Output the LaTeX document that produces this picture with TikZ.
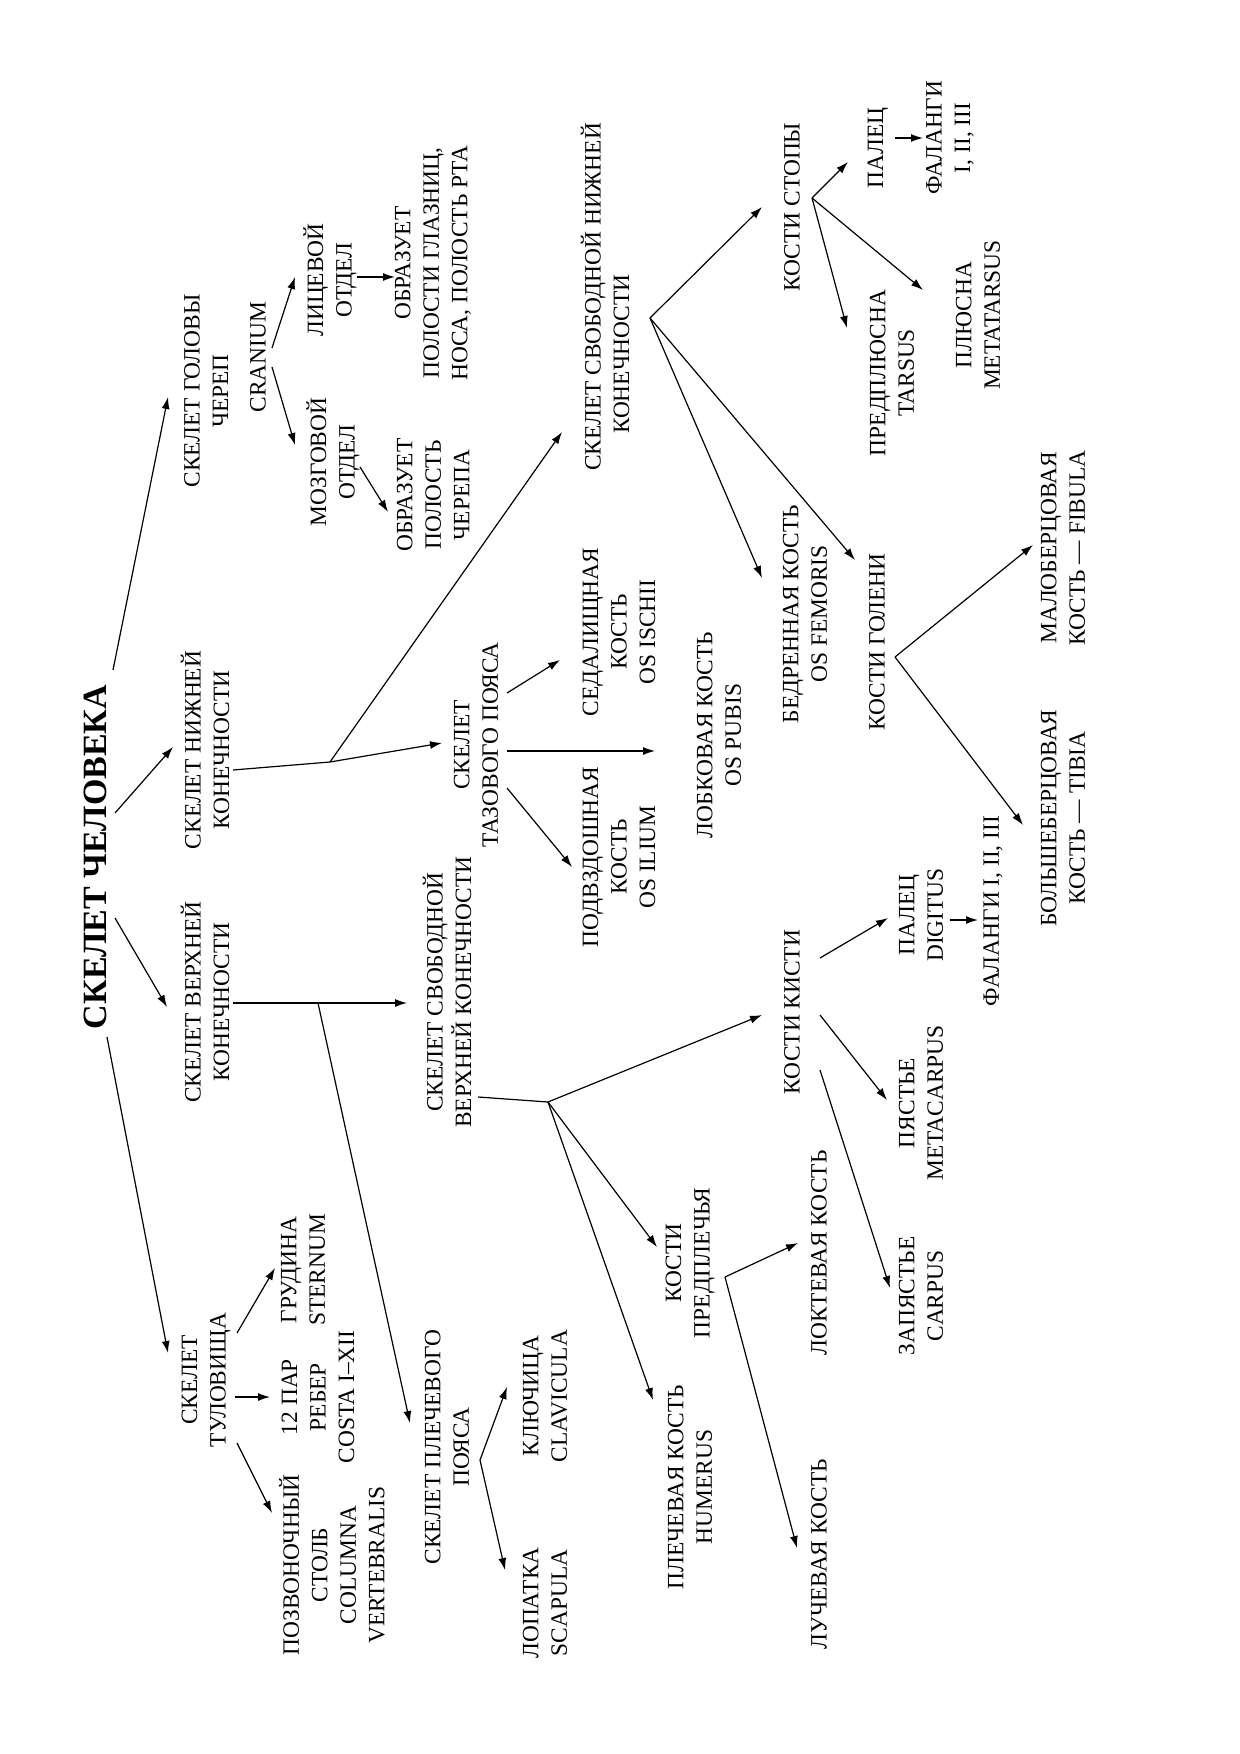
\documentclass[tikz,border=0pt]{standalone}
\usepackage{fontspec}
\setmainfont{Liberation Serif}
\usetikzlibrary{arrows.meta}
\begin{document}
\begin{tikzpicture}[x=0.5pt,y=-0.5pt,
  txt/.style={rotate=90, align=center, inner sep=0pt, font=\fontsize{11.7}{14.25}\selectfont},
  ttl/.style={rotate=90, inner sep=0pt, font=\bfseries\fontsize{17}{20}\selectfont},
  arr/.style={-{Latex[length=6pt,width=4pt]}, line width=0.6pt},
  ln/.style={line width=0.6pt}]
\useasboundingbox (0,0) rectangle (1240,1754);
% ---------- nodes ----------
\node[ttl] (title) at (95,857) {СКЕЛЕТ ЧЕЛОВЕКА};
\node[txt] (head) at (206,391) {СКЕЛЕТ ГОЛОВЫ\\ЧЕРЕП};
\node[txt] (cranium) at (258,357) {CRANIUM};
\node[txt] (face) at (330,280) {ЛИЦЕВОЙ\\ОТДЕЛ};
\node[txt] (faceres) at (433,263) {ОБРАЗУЕТ\\ПОЛОСТИ ГЛАЗНИЦ,\\НОСА, ПОЛОСТЬ РТА};
\node[txt] (brain) at (333,462) {МОЗГОВОЙ\\ОТДЕЛ};
\node[txt] (brainres) at (433,495) {ОБРАЗУЕТ\\ПОЛОСТЬ\\ЧЕРЕПА};
\node[txt] (lower) at (205,750) {СКЕЛЕТ НИЖНЕЙ\\КОНЕЧНОСТИ};
\node[txt,align=left] (freelower) at (605,297) {СКЕЛЕТ СВОБОДНОЙ НИЖНЕЙ\\\hspace*{18.5pt}КОНЕЧНОСТИ};
\node[txt] (pelvis) at (476,745) {СКЕЛЕТ\\ТАЗОВОГО ПОЯСА};
\node[txt] (ischii) at (619,632) {СЕДАЛИЩНАЯ\\КОСТЬ\\OS ISCHII};
\node[txt] (pubis) at (719,735) {ЛОБКОВАЯ КОСТЬ\\OS PUBIS};
\node[txt] (ilium) at (619,857) {ПОДВЗДОШНАЯ\\КОСТЬ\\OS ILIUM};
\node[txt] (femur) at (805,614) {БЕДРЕННАЯ КОСТЬ\\OS FEMORIS};
\node[txt] (shin) at (877,642) {КОСТИ ГОЛЕНИ};
\node[txt] (fibula) at (1063,548) {МАЛОБЕРЦОВАЯ\\КОСТЬ — FIBULA};
\node[txt] (tibia) at (1063,818) {БОЛЬШЕБЕРЦОВАЯ\\КОСТЬ — TIBIA};
\node[txt] (foot) at (792,207) {КОСТИ СТОПЫ};
\node[txt] (toe) at (878,148) {ПАЛЕЦ};
\node[txt] (toephal) at (950,138) {ФАЛАНГИ\\I, II, III};
\node[txt] (tarsus) at (892,373) {ПРЕДПЛЮСНА\\TARSUS};
\node[txt] (metatarsus) at (978,315) {ПЛЮСНА\\METATARSUS};
\node[txt] (upper) at (205,1002) {СКЕЛЕТ ВЕРХНЕЙ\\КОНЕЧНОСТИ};
\node[txt] (trunk) at (206,1380) {СКЕЛЕТ\\ТУЛОВИЩА};
\node[txt] (sternum) at (303,1270) {ГРУДИНА\\STERNUM};
\node[txt] (ribs) at (318,1397) {12 ПАР\\РЕБЕР\\COSTA I–XII};
\node[txt] (spine) at (332,1565) {ПОЗВОНОЧНЫЙ\\СТОЛБ\\COLUMNA\\VERTEBRALIS};
\node[txt] (shoulder) at (447,1447) {СКЕЛЕТ ПЛЕЧЕВОГО\\ПОЯСА};
\node[txt] (clavicle) at (545,1396) {КЛЮЧИЦА\\CLAVICULA};
\node[txt] (scapula) at (545,1603) {ЛОПАТКА\\SCAPULA};
\node[txt] (freeupper) at (447,992) {СКЕЛЕТ СВОБОДНОЙ\\ВЕРХНЕЙ КОНЕЧНОСТИ};
\node[txt] (forearm) at (690,1263) {КОСТИ\\ПРЕДПЛЕЧЬЯ};
\node[txt] (humerus) at (690,1487) {ПЛЕЧЕВАЯ КОСТЬ\\HUMERUS};
\node[txt] (ulna) at (819,1253) {ЛОКТЕВАЯ КОСТЬ};
\node[txt] (radius) at (819,1554) {ЛУЧЕВАЯ КОСТЬ};
\node[txt] (hand) at (792,1012) {КОСТИ КИСТИ};
\node[txt] (finger) at (921,915) {ПАЛЕЦ\\DIGITUS};
\node[txt] (fingerphal) at (993,911) {ФАЛАНГИ I, II, III};
\node[txt] (metacarpus) at (921,1103) {ПЯСТЬЕ\\METACARPUS};
\node[txt] (carpus) at (921,1296) {ЗАПЯСТЬЕ\\CARPUS};
% ---------- connector end points ----------
\coordinate (t1) at (113,670);   \coordinate (headE) at (168,397);
\coordinate (t2) at (115,813);   \coordinate (lowerE) at (173,747);
\coordinate (t3) at (115,918);   \coordinate (upperE) at (167,1007);
\coordinate (t4) at (107,1037);  \coordinate (trunkE) at (168,1353);
\coordinate (crA) at (272,348);  \coordinate (faceE) at (295,277);
\coordinate (crB) at (272,367);  \coordinate (brainE) at (295,445);
\coordinate (faceS) at (357,277);  \coordinate (faceresE) at (395,277);
\coordinate (brainS) at (360,467); \coordinate (brainresE) at (388,512);
\coordinate (lowerS) at (233,770); \coordinate (J1) at (330,762);
\coordinate (freelowerE) at (562,432); \coordinate (pelvisE) at (442,743);
\coordinate (pelA) at (507,693); \coordinate (ischiiE) at (560,660);
\coordinate (pelB) at (507,751); \coordinate (pubisE) at (655,751);
\coordinate (pelC) at (507,788); \coordinate (iliumE) at (572,867);
\coordinate (J2) at (650,318);
\coordinate (footE) at (762,207); \coordinate (femurE) at (762,578); \coordinate (shinE) at (855,560);
\coordinate (J3) at (895,657);
\coordinate (fibulaE) at (1033,545); \coordinate (tibiaE) at (1023,825);
\coordinate (J4) at (812,198);
\coordinate (toeE) at (848,162); \coordinate (tarsusE) at (847,328); \coordinate (metatarsusE) at (923,290);
\coordinate (toeS) at (895,138); \coordinate (toephalE) at (923,138);
\coordinate (upperS) at (233,1003); \coordinate (J5) at (318,1003);
\coordinate (freeupperE) at (407,1003); \coordinate (shoulderE) at (410,1423);
\coordinate (trA) at (237,1333); \coordinate (sternumE) at (275,1268);
\coordinate (trB) at (235,1397); \coordinate (ribsE) at (270,1397);
\coordinate (trC) at (237,1443); \coordinate (spineE) at (272,1513);
\coordinate (J6) at (480,1460);
\coordinate (clavicleE) at (507,1387); \coordinate (scapulaE) at (505,1570);
\coordinate (freeupperS) at (478,1097); \coordinate (J7) at (548,1102);
\coordinate (handE) at (762,1015); \coordinate (forearmE) at (657,1247); \coordinate (humerusE) at (653,1400);
\coordinate (J8) at (725,1277);
\coordinate (ulnaE) at (798,1243); \coordinate (radiusE) at (797,1548);
\coordinate (hdA) at (820,958);  \coordinate (fingerE) at (888,918);
\coordinate (hdB) at (820,1015); \coordinate (metacarpusE) at (887,1100);
\coordinate (hdC) at (820,1070); \coordinate (carpusE) at (890,1288);
\coordinate (fingerS) at (950,920); \coordinate (fingerphalE) at (978,920);
% ---------- connectors ----------
\draw[arr] (t1) -- (headE);
\draw[arr] (t2) -- (lowerE);
\draw[arr] (t3) -- (upperE);
\draw[arr] (t4) -- (trunkE);
\draw[arr] (crA) -- (faceE);
\draw[arr] (crB) -- (brainE);
\draw[arr] (faceS) -- (faceresE);
\draw[arr] (brainS) -- (brainresE);
\draw[ln] (lowerS) -- (J1);
\draw[arr] (J1) -- (freelowerE);
\draw[arr] (J1) -- (pelvisE);
\draw[arr] (pelA) -- (ischiiE);
\draw[arr] (pelB) -- (pubisE);
\draw[arr] (pelC) -- (iliumE);
\draw[arr] (J2) -- (footE);
\draw[arr] (J2) -- (femurE);
\draw[arr] (J2) -- (shinE);
\draw[arr] (J3) -- (fibulaE);
\draw[arr] (J3) -- (tibiaE);
\draw[arr] (J4) -- (toeE);
\draw[arr] (J4) -- (tarsusE);
\draw[arr] (J4) -- (metatarsusE);
\draw[arr] (toeS) -- (toephalE);
\draw[ln] (upperS) -- (J5);
\draw[arr] (J5) -- (freeupperE);
\draw[arr] (J5) -- (shoulderE);
\draw[arr] (trA) -- (sternumE);
\draw[arr] (trB) -- (ribsE);
\draw[arr] (trC) -- (spineE);
\draw[arr] (J6) -- (clavicleE);
\draw[arr] (J6) -- (scapulaE);
\draw[ln] (freeupperS) -- (J7);
\draw[arr] (J7) -- (handE);
\draw[arr] (J7) -- (forearmE);
\draw[arr] (J7) -- (humerusE);
\draw[arr] (J8) -- (ulnaE);
\draw[arr] (J8) -- (radiusE);
\draw[arr] (hdA) -- (fingerE);
\draw[arr] (hdB) -- (metacarpusE);
\draw[arr] (hdC) -- (carpusE);
\draw[arr] (fingerS) -- (fingerphalE);
\end{tikzpicture}
\end{document}
